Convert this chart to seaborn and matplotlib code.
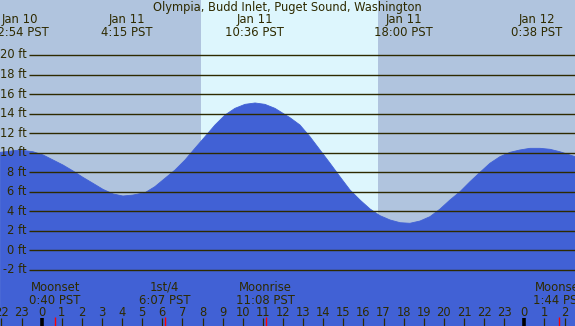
import numpy as np
import pandas as pd
import matplotlib
matplotlib.use('Agg')
import matplotlib.pyplot as plt
import matplotlib.transforms as mtransforms
import seaborn as sns

# === Data (hours relative to Jan 11 0:00 PST, heights in ft) ===
hours = [-2.07, -1.08, -0.43, 0.07, 0.56, 1.06, 1.56, 2.05, 2.55, 3.05, 3.55, 4.04, 4.54,
         5.14, 5.63, 6.13, 6.63, 7.13, 7.62, 8.12, 8.62, 9.12, 9.61, 10.11, 10.61, 11.10,
         11.60, 12.35, 12.84, 13.34, 13.84, 14.34, 14.83, 15.33, 15.83, 16.33, 16.82, 17.32,
         17.82, 18.31, 18.81, 19.31, 19.81, 20.30, 20.80, 21.30, 21.80, 22.29, 22.79, 23.29,
         23.78, 24.28, 24.78, 25.28, 25.77, 26.52]
heights = [10.04, 10.28, 10.1, 9.77, 9.26, 8.74, 8.13, 7.48, 6.87, 6.25, 5.78, 5.57, 5.67,
           5.91, 6.53, 7.38, 8.23, 9.26, 10.45, 11.64, 12.84, 13.86, 14.54, 14.95, 15.09, 14.95,
           14.54, 13.58, 12.84, 11.64, 10.28, 8.92, 7.55, 6.19, 5.16, 4.24, 3.56, 3.12,
           2.84, 2.78, 3.01, 3.46, 4.24, 5.16, 6.01, 7.04, 8.0, 8.92, 9.6, 10.04,
           10.28, 10.45, 10.45, 10.35, 10.1, 9.6]

extreme_hours = [-1.1, 4.25, 10.6, 18.0, 24.633]
extreme_days = ['Jan 10', 'Jan 11', 'Jan 11', 'Jan 11', 'Jan 12']
extreme_times = ['22:54 PST', '4:15 PST', '10:36 PST', '18:00 PST', '0:38 PST']

moon_hours = [0.667, 6.117, 11.133, 25.733]
moon_events = ['Moonset', '1st/4', 'Moonrise', 'Moonset']
moon_times = ['0:40 PST', '6:07 PST', '11:08 PST', '1:44 PST']

sunrise, sunset = 7.92, 16.72
grid_levels = [-2, 0, 2, 4, 6, 8, 10, 12, 14, 16, 18, 20]
hour_ticks = list(range(-2, 27))

title = 'Olympia, Budd Inlet, Puget Sound, Washington'

# === Style ===
night_col = '#B0C4DE'
day_col = '#DDF6FD'
water_col = '#4161D5'
text_col = '#2E2A00'
line_col = '#2E2A00'

sns.set_style('white')
plt.rcParams['font.family'] = ['DejaVu Sans']

W, H = 575, 326
fig = plt.figure(figsize=(W / 100, H / 100), dpi=100, facecolor=night_col)
ax = fig.add_axes([0, 0, 1, 1])
ax.set_facecolor(night_col)

# pixel geometry
x0_px, px_per_h = 41.7, 20.11
y0_px, px_per_ft = 250.45, 9.773
ax.set_xlim(-x0_px / px_per_h, (W - x0_px) / px_per_h)
ax.set_ylim((y0_px - H) / px_per_ft, y0_px / px_per_ft)
ax.axis('off')

# helper: y in pixels from top -> axes fraction
def ypx(p):
    return 1 - p / H
blend = mtransforms.blended_transform_factory(ax.transData, ax.transAxes)

# === Daylight band ===
ax.axvspan(sunrise, sunset, color=day_col, zorder=0, lw=0)

# === Tide curve ===
df = pd.DataFrame({'hour': hours, 'ft': heights})
ax.fill_between(df['hour'], df['ft'], -20, color=water_col, lw=0, zorder=1)
sns.lineplot(data=df, x='hour', y='ft', ax=ax, color=water_col, lw=0.6, zorder=1)

# === Grid lines and labels ===
x_line_start = (29.3 - x0_px) / px_per_h
for lv in grid_levels:
    ax.plot([x_line_start, ax.get_xlim()[1]], [lv, lv], color=line_col, lw=1.0, zorder=2,
            solid_capstyle='butt')
    ax.text((26.7 - x0_px) / px_per_h, lv, f'{lv} ft', ha='right', va='center',
            fontsize=8.3, color=text_col, zorder=3)

# === Title and high/low labels ===
fig.text(0.5, ypx(7.5), title, ha='center', va='center', fontsize=8.3, color=text_col)
for h, d, t in zip(extreme_hours, extreme_days, extreme_times):
    ax.text(h, ypx(19.5), d, transform=blend, ha='center', va='center', fontsize=8.4, color=text_col)
    ax.text(h, ypx(32), t, transform=blend, ha='center', va='center', fontsize=8.4, color=text_col)

# === Moon events ===
for h, ev, t in zip(moon_hours, moon_events, moon_times):
    ax.text(h, ypx(287.5), ev, transform=blend, ha='center', va='center', fontsize=8.4, color=text_col)
    ax.text(h, ypx(300), t, transform=blend, ha='center', va='center', fontsize=8.4, color=text_col)
    ax.plot([h, h], [ypx(317), ypx(326)], transform=blend, color='#FF0000', lw=1.0, zorder=5,
            solid_capstyle='butt')

# === Hour ticks ===
for h in hour_ticks:
    ax.text(h, ypx(312), str(h % 24), transform=blend, ha='center', va='center',
            fontsize=8.3, color=text_col)
    if h % 24 == 0:
        ax.plot([h, h], [ypx(317.5), ypx(326)], transform=blend, color='black', lw=2.6, zorder=4,
                solid_capstyle='butt')
    else:
        ax.plot([h, h], [ypx(318), ypx(326)], transform=blend, color=line_col, lw=0.9, zorder=4,
                solid_capstyle='butt')

fig.savefig('out.png', dpi=100, facecolor=night_col)
